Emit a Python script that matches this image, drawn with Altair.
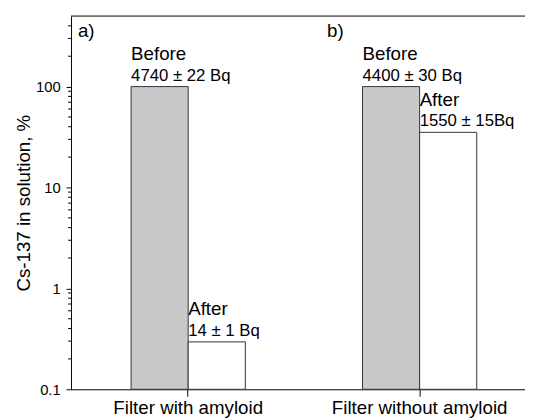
import altair as alt
import pandas as pd

groups = ["Filter with amyloid", "Filter without amyloid"]
phases = ["Before", "After"]
before_values = [100, 100]
after_values = [0.295, 35.2]
before_labels = ["4740 \u00b1 22 Bq", "4400 \u00b1 30 Bq"]
after_labels = ["14 \u00b1 1 Bq", "1550 \u00b1 15Bq"]
y_ticks = [0.1, 1, 10, 100]
minor_ticks = [0.2, 0.3, 0.4, 0.5, 0.6, 0.7, 0.8, 0.9,
               2, 3, 4, 5, 6, 7, 8, 9,
               20, 30, 40, 50, 60, 70, 80, 90,
               200, 300, 400]
panel_labels = ["a)", "b)"]
panel_x = [7, 260]

rows = []
for g, bv, av, bl, al in zip(groups, before_values, after_values, before_labels, after_labels):
    rows.append({"group": g, "phase": "Before", "value": bv, "label": bl})
    rows.append({"group": g, "phase": "After", "value": av, "label": al})
df = pd.DataFrame(rows)

W, H = 461, 379
FONT = "Liberation Sans"

yscale = alt.Scale(type="log", domain=[0.1, 500], nice=False)
xscale = alt.Scale(paddingInner=0.5064, paddingOuter=0.234, align=0.5545)

xenc = alt.X("group:N", sort=groups, scale=xscale,
             axis=alt.Axis(title=None, labelAngle=0, tickSize=7, labelPadding=3,
                           labelFontSize=19, labelFont=FONT, labelColor="#000",
                           domainColor="#000", tickColor="#000", labelBaseline="top"))
xoff = alt.XOffset("phase:N", sort=phases, scale=alt.Scale(paddingInner=0, paddingOuter=0))
yenc = alt.Y("value:Q", scale=yscale,
             axis=alt.Axis(title="Cs-137 in solution, %", values=y_ticks, format="~g",
                           grid=False, tickSize=5, labelPadding=6, titlePadding=2,
                           labelFontSize=15, labelFont=FONT, labelColor="#000",
                           titleFontSize=19, titleFont=FONT, titleFontWeight="normal",
                           titleColor="#000", domainColor="#000", tickColor="#000"))

bars = alt.Chart(df).mark_bar(stroke="#333333", strokeWidth=1).encode(
    x=xenc, xOffset=xoff, y=yenc, y2=alt.datum(0.1),
    fill=alt.Fill("phase:N", sort=phases,
                  scale=alt.Scale(domain=phases, range=["#c8c8ca", "#ffffff"]), legend=None),
)

phase_text = alt.Chart(df).mark_text(align="left", baseline="alphabetic", dx=-29, dy=-27,
                                     fontSize=19, font=FONT, color="#000").encode(
    x=xenc, xOffset=xoff, y=yenc, text="phase:N")
value_text = alt.Chart(df).mark_text(align="left", baseline="alphabetic", dx=-29, dy=-6,
                                     fontSize=17, font=FONT, color="#000").encode(
    x=xenc, xOffset=xoff, y=yenc, text="label:N")

minor = alt.Chart(pd.DataFrame({"v": minor_ticks})).mark_rule(color="#000", strokeWidth=1).encode(
    y=alt.Y("v:Q", scale=yscale), x=alt.value(-3), x2=alt.value(0))

top_line = alt.Chart(pd.DataFrame({"v": [0]})).mark_rule(color="#000", strokeWidth=1).encode(
    y=alt.value(0), x=alt.value(0), x2=alt.value(W))

panel_layers = [
    alt.Chart(pd.DataFrame({"t": [t]})).mark_text(align="left", baseline="alphabetic", fontSize=19,
                                                  font=FONT, color="#000").encode(
        x=alt.value(px), y=alt.value(21), text="t:N")
    for t, px in zip(panel_labels, panel_x)
]

chart = alt.layer(bars, minor, top_line, phase_text, value_text, *panel_layers).properties(
    width=W, height=H,
    autosize=alt.AutoSizeParams(type="none"),
    padding={"left": 64, "top": 5, "right": 0, "bottom": 28},
).configure_view(stroke=None)

chart.save("out.html", embed_options={"renderer": "svg", "actions": False})
